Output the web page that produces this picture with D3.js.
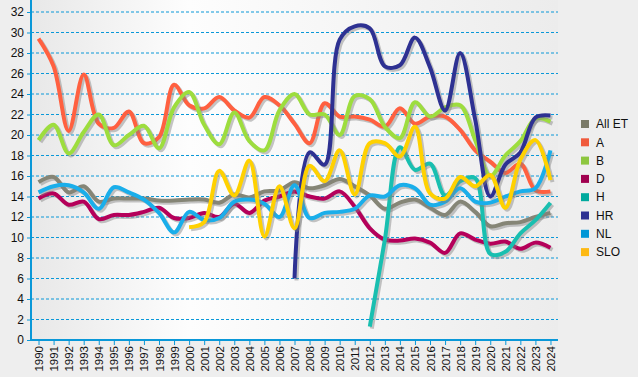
<!DOCTYPE html>
<html>
<head>
<meta charset="utf-8">
<script src="https://cdn.jsdelivr.net/npm/d3@7"></script>
<style>
  body { margin: 0; background: #eeeeee; }
  svg { display: block; font-family: "Liberation Sans", Arial, sans-serif; }
</style>
</head>
<body>
<svg width="638" height="377"></svg>
<script>
const years = [1990, 1991, 1992, 1993, 1994, 1995, 1996, 1997, 1998, 1999,
  2000, 2001, 2002, 2003, 2004, 2005, 2006, 2007, 2008, 2009,
  2010, 2011, 2012, 2013, 2014, 2015, 2016, 2017, 2018, 2019,
  2020, 2021, 2022, 2023, 2024]
const yTicks = [0, 2, 4, 6, 8, 10, 12, 14, 16, 18, 20, 22, 24, 26, 28, 30, 32]
const seriesNames = ['All ET', 'A', 'B', 'D', 'H', 'HR', 'NL', 'SLO']

const allEt = [15.4, 15.9, 14.4, 15.0, 13.5, 13.8, 13.8, 13.8, 13.6, 13.6,
  13.7, 13.7, 13.4, 14.2, 13.9, 14.5, 14.6, 15.4, 14.8, 15.1,
  15.7, 15.0, 14.1, 12.8, 13.4, 13.7, 12.9, 12.2, 13.5, 12.5,
  11.1, 11.4, 11.5, 12.0, 12.4]
const a = [29.4, 26.7, 20.4, 25.9, 21.1, 20.7, 22.3, 19.2, 19.8, 24.9,
  22.9, 22.6, 23.7, 22.4, 21.7, 23.7, 22.9, 21.1, 19.2, 23.1,
  21.8, 21.8, 21.5, 20.8, 22.6, 21.1, 21.8, 21.8, 20.5, 18.5,
  17.4, 16.3, 17.2, 14.6, 14.5]
const b = [19.5, 21.0, 18.2, 20.3, 22.0, 19.0, 20.0, 20.9, 18.7, 22.7,
  24.2, 21.0, 19.1, 22.2, 19.4, 18.5, 22.4, 24.0, 22.0, 22.0,
  20.0, 23.8, 23.5, 20.8, 19.7, 23.2, 21.8, 22.7, 22.9, 19.5,
  16.0, 18.0, 19.4, 21.6, 21.3]
const d = [13.8, 14.3, 13.2, 13.5, 11.8, 12.2, 12.2, 12.5, 12.9, 11.9,
  11.9, 12.4, 12.0, 13.3, 12.4, 13.6, 14.0, 14.5, 14.0, 13.8,
  14.5, 13.0, 10.9, 9.8, 9.7, 9.9, 9.5, 8.5, 10.4, 9.8,
  9.4, 9.6, 8.9, 9.5, 9.0]
const h = [null, null, null, null, null, null, null, null, null, null,
  null, null, null, null, null, null, null, null, null, null,
  null, null, 1.3, 9.8, 18.8, 16.6, 17.2, 14.1, 15.5, 15.8,
  8.4, 8.6, 10.4, 11.7, 13.4]
const hr = [null, null, null, null, null, null, null, null, null, null,
  null, null, null, null, null, null, null, 6.0, 18.3, 17.1,
  29.3, 30.6, 30.4, 26.7, 26.8, 29.5, 26.6, 22.4, 28.0, 21.5,
  14.0, 17.1, 18.3, 21.7, 21.9]
const nl = [14.4, 15.0, 15.1, 14.4, 12.8, 14.9, 14.4, 13.7, 12.4, 10.5,
  12.5, 11.7, 11.9, 13.5, 13.7, 13.3, 12.0, 15.1, 11.9, 12.4,
  12.5, 12.8, 14.1, 14.0, 15.1, 14.8, 13.2, 13.5, 14.8, 13.5,
  13.4, 14.0, 14.5, 14.8, 18.5]
const slo = [null, null, null, null, null, null, null, null, null, null,
  11.0, 11.5, 16.5, 14.1, 17.5, 10.1, 15.0, 10.9, 17.0, 15.5,
  18.5, 14.2, 19.2, 19.2, 17.9, 20.8, 14.3, 13.8, 15.9, 15.0,
  16.1, 12.9, 17.6, 19.5, 15.6]

const lineColors = ['#858576', '#ff6040', '#9ddd3e', '#b5005a', '#19bfb0', '#2e3192', '#1aaeea', '#ffd100']
const keyColors = ['#7a7a68', '#f05a3c', '#8dc63f', '#a0004f', '#00a99d', '#2e3192', '#0096d6', '#fdb913']

const svg = d3.select('svg')
const width = +svg.attr('width')
const height = +svg.attr('height')
const margin = {top: 12, right: 80, bottom: 37, left: 31}
const plotRight = width - margin.right
const plotBottom = height - margin.bottom

const defs = svg.append('defs')
const grad = defs.append('linearGradient').attr('id', 'bg').attr('x1', 0).attr('x2', 1).attr('y1', 0).attr('y2', 0)
grad.append('stop').attr('offset', '0%').attr('stop-color', '#e8e8e8')
grad.append('stop').attr('offset', '30%').attr('stop-color', '#fdfdfd')
grad.append('stop').attr('offset', '100%').attr('stop-color', '#ececec')

svg.append('rect')
  .attr('x', margin.left)
  .attr('y', 0)
  .attr('width', plotRight - margin.left)
  .attr('height', plotBottom)
  .attr('fill', 'url(#bg)')

const x = d3.scalePoint()
  .domain(years)
  .range([margin.left, plotRight])
  .padding(0.5)

const y = d3.scaleLinear()
  .domain([0, 32])
  .range([plotBottom, margin.top])

const blue = '#0a98d8'

svg.append('g')
  .selectAll('line')
  .data(yTicks.filter(t => t > 0))
  .join('line')
  .attr('x1', margin.left)
  .attr('x2', plotRight)
  .attr('y1', t => y(t))
  .attr('y2', t => y(t))
  .attr('stroke', blue)
  .attr('stroke-width', 1)
  .attr('stroke-dasharray', '3,2')

const yAxis = svg.append('g')
  .attr('transform', `translate(${margin.left},0)`)
  .call(d3.axisLeft(y).tickValues(yTicks).tickSize(4).tickPadding(3))
yAxis.select('.domain').attr('stroke', blue).attr('stroke-width', 2).attr('d', `M0,0V${plotBottom}`)
yAxis.selectAll('.tick line').attr('stroke', blue)
yAxis.selectAll('.tick text').attr('font-size', 12).attr('fill', '#111').attr('font-family', '"Liberation Sans", Arial, sans-serif')

const xAxis = svg.append('g')
  .attr('transform', `translate(0,${plotBottom})`)
  .call(d3.axisBottom(x).tickSize(5).tickSizeOuter(0))
xAxis.select('.domain').attr('stroke', blue).attr('stroke-width', 2).attr('d', `M${margin.left},0H${plotRight}`)
xAxis.selectAll('.tick line').attr('stroke', blue)
xAxis.selectAll('.tick text')
  .attr('font-size', 11.5)
  .attr('fill', '#111')
  .attr('font-family', '"Liberation Sans", Arial, sans-serif')
  .attr('text-anchor', 'end')
  .attr('dy', '0.35em')
  .attr('transform', 'translate(0,6) rotate(-90)')
  .attr('x', 0)
  .attr('y', 0)

const seriesData = [allEt, a, b, d, h, hr, nl, slo]

const line = d3.line()
  .defined(v => v != null)
  .x((v, i) => x(years[i]))
  .y(v => y(v))
  .curve(d3.curveCatmullRom.alpha(0.5))

const lines = svg.append('g')

seriesData.forEach((values, k) => {
  lines.append('path')
    .attr('d', line(values))
    .attr('fill', 'none')
    .attr('stroke', '#808080')
    .attr('stroke-opacity', 0.45)
    .attr('stroke-width', 4)
    .attr('stroke-linejoin', 'round')
    .attr('transform', 'translate(2,2)')
  lines.append('path')
    .attr('d', line(values))
    .attr('fill', 'none')
    .attr('stroke', lineColors[k])
    .attr('stroke-width', 4)
    .attr('stroke-linejoin', 'round')
})

const legend = svg.append('g')
  .attr('transform', 'translate(581,120)')

const items = legend.selectAll('g')
  .data(seriesNames)
  .join('g')
  .attr('transform', (_, i) => `translate(0,${i * 18.3})`)

items.append('rect')
  .attr('width', 8)
  .attr('height', 8)
  .attr('fill', (_, i) => keyColors[i])

items.append('text')
  .attr('x', 15)
  .attr('y', 4)
  .attr('dy', '0.35em')
  .attr('font-size', 12)
  .attr('fill', '#111')
  .text(n => n)
</script>
</body>
</html>
